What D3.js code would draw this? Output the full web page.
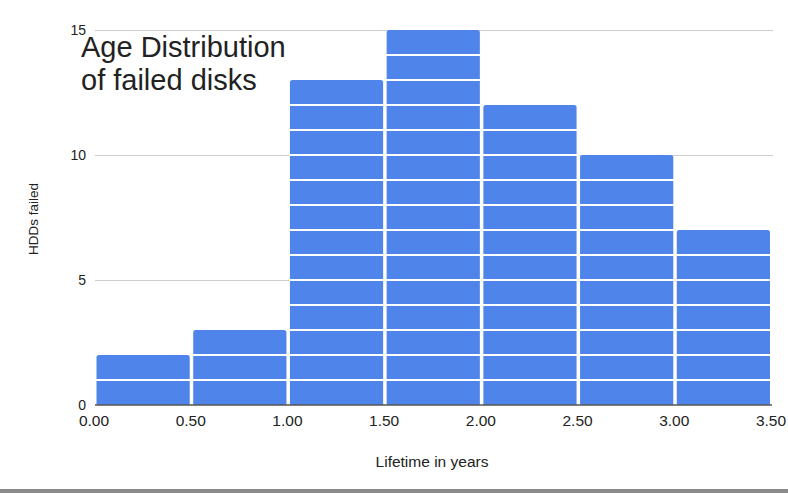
<!DOCTYPE html>
<html>
<head>
<meta charset="utf-8">
<script src="https://cdn.jsdelivr.net/npm/d3@7"></script>
<style>
    body{margin:0;background:white;}
    text{font-family:"Liberation Sans",Arial,sans-serif;fill:#222;}
</style>
</head>
<body>
<svg id="graph"></svg>
<script>
var binStarts=[0,0.5,1,1.5,2,2.5,3]
var binEnds=[0.5,1,1.5,2,2.5,3,3.5]
var counts=[2,3,13,15,12,10,7]
var xTicks=[0,0.5,1,1.5,2,2.5,3,3.5]
var yTicks=[0,5,10,15]

var initGraph=function()
    {
        var screen={width:788,height:493}
        var margins={left:96,right:15,top:30,bottom:88}

        var graph=
            {
                width:screen.width-margins.left-margins.right,
                height:screen.height-margins.top-margins.bottom
            }

        var svg=d3.select("#graph")
            .attr("width",screen.width)
            .attr("height",screen.height)

        var target=svg.append("g")
            .attr("id","canvas")
            .attr("transform","translate("+margins.left+","+margins.top+")")

        var xScale=d3.scaleLinear()
            .domain([0,3.5])
            .range([0,graph.width])

        var yScale=d3.scaleLinear()
            .domain([0,15])
            .range([graph.height,0])

        drawGrid(target,graph,xScale,yScale)
        drawBars(target,xScale,yScale)
        drawAxes(target,graph,xScale,yScale)
        drawLabels(svg,graph,margins,screen)
    }

var drawGrid=function(target,graph,xScale,yScale)
    {
        target.append("g")
            .selectAll("line")
            .data(yTicks.filter(function(d){return d>0}))
            .enter()
            .append("line")
            .attr("x1",-1)
            .attr("x2",graph.width)
            .attr("y1",function(d){return Math.round(yScale(d))+0.5})
            .attr("y2",function(d){return Math.round(yScale(d))+0.5})
            .style("stroke","#cccccc")
            .style("stroke-width",1)
    }

var drawBars=function(target,xScale,yScale)
    {
        var bins=counts.map(function(c,i)
            {
                return {x0:binStarts[i],x1:binEnds[i],count:c}
            })

        var bars=target.append("g")
            .selectAll("g")
            .data(bins)
            .enter()
            .append("g")

        bars.append("path")
            .attr("d",function(b)
                {
                    var l=xScale(b.x0)+0.5
                    var r=xScale(b.x1)-3
                    var t=yScale(b.count)
                    var bt=yScale(0)
                    var rr=2.5
                    return "M"+l+","+bt+"L"+l+","+(t+rr)+"Q"+l+","+t+" "+(l+rr)+","+t+
                        "L"+(r-rr)+","+t+"Q"+r+","+t+" "+r+","+(t+rr)+"L"+r+","+bt+"Z"
                })
            .attr("fill","#4f84ea")

        // white separators between unit blocks
        bars.selectAll("line")
            .data(function(b)
                {
                    return d3.range(1,b.count).map(function(k){return {b:b,k:k}})
                })
            .enter()
            .append("line")
            .attr("x1",function(d){return xScale(d.b.x0)})
            .attr("x2",function(d){return xScale(d.b.x1)})
            .attr("y1",function(d){return yScale(d.k)})
            .attr("y2",function(d){return yScale(d.k)})
            .style("stroke","white")
            .style("stroke-width",2.2)
    }

var drawAxes=function(target,graph,xScale,yScale)
    {
        target.append("line")
            .attr("x1",-1)
            .attr("x2",graph.width-1)
            .attr("y1",yScale(0))
            .attr("y2",yScale(0))
            .style("stroke","#555555")
            .style("stroke-width",1.5)

        target.append("g")
            .selectAll("text")
            .data(yTicks)
            .enter()
            .append("text")
            .text(function(d){return d})
            .attr("x",-10)
            .attr("y",function(d){return yScale(d)})
            .attr("dy","0.35em")
            .attr("text-anchor","end")
            .style("font-size","14px")

        target.append("g")
            .selectAll("text")
            .data(xTicks)
            .enter()
            .append("text")
            .text(function(d){return d3.format(".2f")(d)})
            .attr("x",function(d){return xScale(d)-2})
            .attr("y",yScale(0)+21)
            .attr("text-anchor","middle")
            .style("font-size","15.5px")
    }

var drawLabels=function(svg,graph,margins,screen)
    {
        var labels=svg.append("g")
            .classed("labels",true)

        labels.append("text")
            .text("Age Distribution")
            .attr("x",81)
            .attr("y",57)
            .style("font-size","29px")
        labels.append("text")
            .text("of failed disks")
            .attr("x",81)
            .attr("y",90)
            .style("font-size","29px")

        labels.append("text")
            .text("Lifetime in years")
            .attr("text-anchor","middle")
            .attr("x",432)
            .attr("y",467)
            .style("font-size","15.5px")

        labels.append("g")
            .attr("transform","translate(38,219)")
            .append("text")
            .text("HDDs failed")
            .attr("text-anchor","middle")
            .attr("transform","rotate(-90)")
            .style("font-size","13.5px")

        labels.append("rect")
            .attr("x",0)
            .attr("y",screen.height-4)
            .attr("width",screen.width)
            .attr("height",4)
            .attr("fill","#8a8a8a")
    }

initGraph()
</script>
</body>
</html>
